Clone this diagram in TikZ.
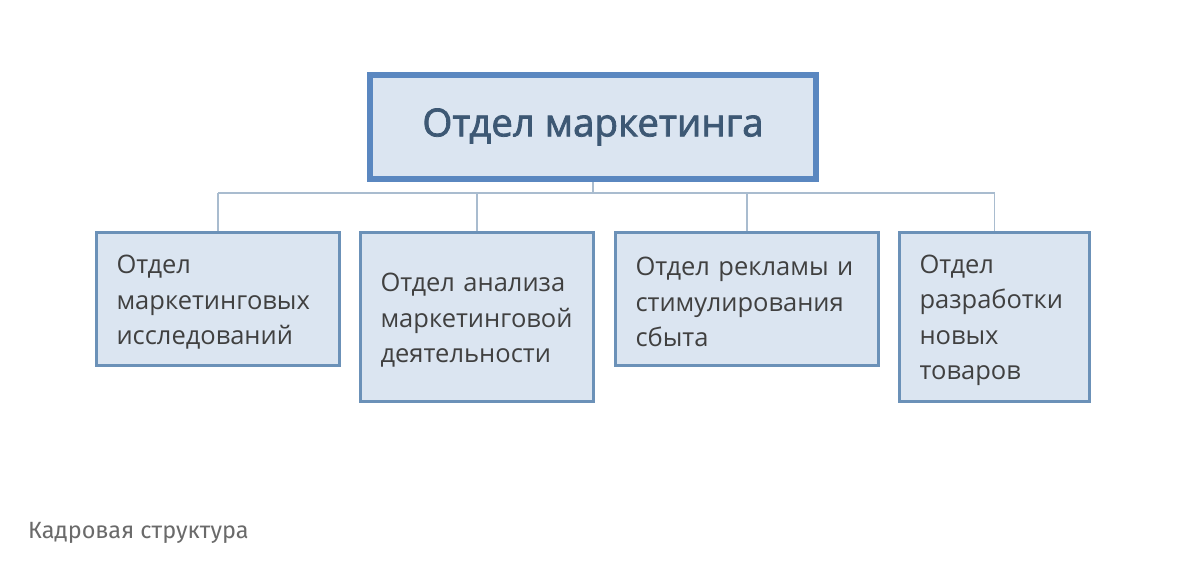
\documentclass[tikz,border=0pt]{standalone}
\usepackage{fontspec}
\setmainfont{Open Sans}
\newfontfamily\capfont{Fira Sans}
\newfontfamily\topfont[FakeBold=2]{Open Sans}
\definecolor{boxfill}{HTML}{DBE5F1}
\definecolor{topborder}{HTML}{5A87C0}
\definecolor{subborder}{HTML}{6B91B8}
\definecolor{connline}{HTML}{A9BCCF}
\definecolor{toptext}{HTML}{3D5874}
\definecolor{subtext}{HTML}{404040}
\definecolor{captext}{HTML}{6A6A6A}
\tikzset{
  topbox/.style={draw=topborder, line width=6pt, fill=boxfill, text=toptext,
    font=\topfont\fontsize{38.5}{44}\selectfont, inner sep=0pt},
  subbox/.style={draw=subborder, line width=3pt, fill=boxfill, text=subtext,
    font=\fontsize{25.5}{35.5}\selectfont, inner xsep=20pt, inner ysep=0pt, align=left},
  conn/.style={draw=connline, line width=1.6pt},
}
\begin{document}
\begin{tikzpicture}[x=1pt,y=-1pt]
\useasboundingbox[fill=white] (0,0) rectangle (1195,560);
\node[topbox, minimum width=446pt, minimum height=104pt] (top) at (593,127) {\raisebox{-2pt}{Отдел маркетинга}};
\node[subbox, minimum width=243pt, minimum height=133pt, text width=203pt] (b1) at (218,299)
  {\strut Отдел\\маркетинговых\\исследований};
\node[subbox, minimum width=233pt, minimum height=169pt, text width=193pt] (b2) at (477,317)
  {\strut Отдел анализа\\маркетинговой\\деятельности};
\node[subbox, minimum width=263pt, minimum height=133pt, text width=223pt] (b3) at (747,299)
  {\strut Отдел рекламы и\\стимулирования\\сбыта};
\node[subbox, minimum width=190pt, minimum height=169pt, text width=150pt] (b4) at (994.5,317)
  {\strut Отдел\\разработки\\новых\\товаров};
\coordinate (bus) at (594,193);
\draw[conn] (top.south) -- (top.south |- bus);
\draw[conn] (b1.north |- bus) -- (b4.north |- bus);
\foreach \b in {b1,b2,b3,b4} \draw[conn] (\b.north) -- (\b.north |- bus);
\node[anchor=west, inner sep=0pt, text=captext, font=\capfont\fontsize{23.5}{26}\selectfont] (cap) at (28,533) {Кадровая структура};
\end{tikzpicture}
\end{document}
